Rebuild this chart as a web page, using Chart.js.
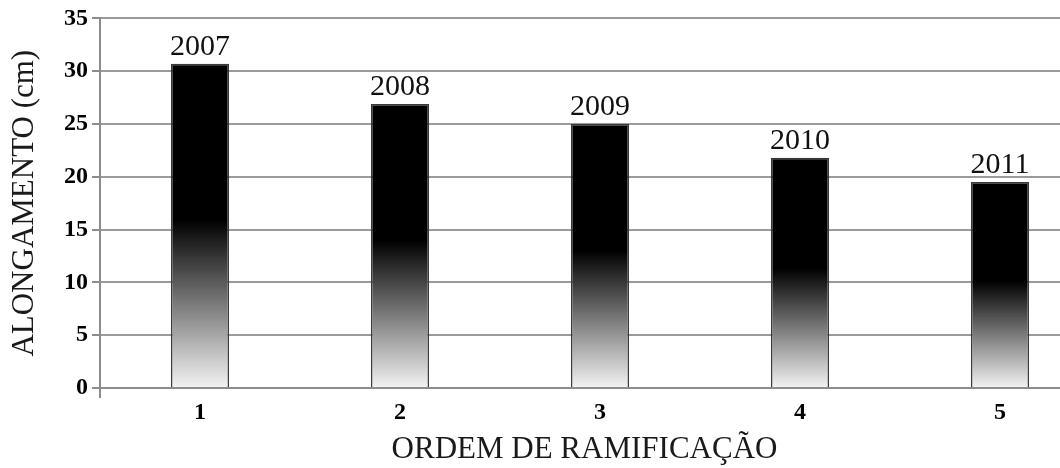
<!DOCTYPE html>
<html>
<head>
<meta charset="utf-8">
<script src="https://cdn.jsdelivr.net/npm/chart.js@4/dist/chart.umd.min.js"></script>
<style>
  html, body { margin: 0; padding: 0; background: #fff; overflow: hidden; }
  #wrap { width: 1060px; height: 468px; overflow: hidden; position: relative; }
  canvas { display: block; }
</style>
</head>
<body>
<div id="wrap"><canvas id="c" width="1100" height="468"></canvas></div>
<script>
// ---- data ----
const categories = ['1', '2', '3', '4', '5'];
const elongation = [30.7, 26.9, 25.0, 21.8, 19.5];
const yearLabels = ['2007', '2008', '2009', '2010', '2011'];
const yTickMin = 0;
const yTickMax = 35;
const yTickStep = 5;
const xTitle = 'ORDEM DE RAMIFICAÇÃO';
const yTitle = 'ALONGAMENTO (cm)';

const SERIF = "'Liberation Serif', 'Times New Roman', serif";

const barLabelPlugin = {
  id: 'barLabels',
  afterDatasetsDraw(chart) {
    const ctx = chart.ctx;
    const meta = chart.getDatasetMeta(0);
    ctx.save();
    ctx.font = "30px " + SERIF;
    ctx.fillStyle = '#111';
    ctx.textAlign = 'center';
    ctx.textBaseline = 'alphabetic';
    meta.data.forEach((bar, i) => {
      ctx.fillText(yearLabels[i], bar.x, bar.y - 9);
    });
    ctx.restore();
  }
};

function barGradient(context) {
  const chart = context.chart;
  const area = chart.chartArea;
  if (!area || !chart.scales.y) return '#000';
  const v = context.raw;
  const yScale = chart.scales.y;
  const top = yScale.getPixelForValue(v);
  const bottom = yScale.getPixelForValue(0);
  if (!isFinite(top) || !isFinite(bottom) || bottom - top < 1) return '#000';
  const g = chart.ctx.createLinearGradient(0, top, 0, bottom);
  g.addColorStop(0, '#000000');
  g.addColorStop(0.48, '#000000');
  g.addColorStop(1, '#f3f3f3');
  return g;
}

// x title is centred on the visible part of the plot in the reference
const xTitleShift = '\u00a0\u00a0\u00a0\u00a0';

new Chart(document.getElementById('c'), {
  type: 'bar',
  data: {
    labels: categories,
    datasets: [{
      data: elongation,
      backgroundColor: barGradient,
      borderColor: '#3a3a3a',
      borderWidth: 1.5,
      barPercentage: 0.29,
      categoryPercentage: 1.0
    }]
  },
  options: {
    responsive: false,
    devicePixelRatio: 1,
    animation: false,
    layout: { padding: { top: 18, right: 0, left: 0, bottom: 0 } },
    plugins: {
      legend: { display: false },
      tooltip: { enabled: false }
    },
    scales: {
      x: {
        offset: true,
        grid: {
          offset: true,
          drawOnChartArea: false,
          drawTicks: true,
          tickLength: 10,
          lineWidth: 2,
          color: '#8c8c8c',
          tickColor: (c) => (c.index === 0 ? '#8c8c8c' : 'rgba(0,0,0,0)')
        },
        border: { display: true, color: '#8c8c8c', width: 2 },
        ticks: {
          color: '#000',
          padding: 0,
          font: { family: SERIF, size: 24, weight: 'bold' }
        },
        title: {
          display: true,
          text: xTitle + xTitleShift,
          color: '#1a1a1a',
          padding: { top: 0, bottom: 0 },
          font: { family: SERIF, size: 31, weight: 'normal' }
        },
        afterFit: (scale) => { scale.height = 80; }
      },
      y: {
        min: yTickMin,
        max: yTickMax,
        ticks: {
          stepSize: yTickStep,
          color: '#000',
          padding: 4,
          font: { family: SERIF, size: 24, weight: 'bold' }
        },
        grid: {
          color: '#9a9a9a',
          lineWidth: 2,
          drawTicks: true,
          tickLength: 8,
          tickColor: '#8c8c8c'
        },
        border: { display: true, color: '#8c8c8c', width: 2 },
        title: {
          display: true,
          text: yTitle,
          color: '#1a1a1a',
          padding: { top: 6, bottom: 0 },
          font: { family: SERIF, size: 31, weight: 'normal' }
        },
        afterFit: (scale) => { scale.width = 100; }
      }
    }
  },
  plugins: [barLabelPlugin]
});
</script>
</body>
</html>
